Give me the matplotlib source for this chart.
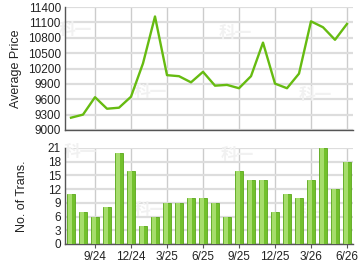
import matplotlib
matplotlib.use("Agg")
import matplotlib.pyplot as plt
import numpy as np

months = ["7/24","8/24","9/24","10/24","11/24","12/24","1/25","2/25","3/25","4/25","5/25","6/25",
          "7/25","8/25","9/25","10/25","11/25","12/25","1/26","2/26","3/26","4/26","5/26","6/26"]
avg_price = [9240, 9300, 9640, 9415, 9435, 9650, 10300, 11215, 10070, 10050, 9930, 10135,
             9865, 9880, 9815, 10050, 10705, 9905, 9815, 10100, 11120, 11005, 10760, 11070]
transactions = [11, 7, 6, 8, 20, 16, 4, 6, 9, 9, 10, 10, 9, 6, 16, 14, 14, 7, 11, 10, 14, 21, 12, 18]
tick_labels = ["9/24", "12/24", "3/25", "6/25", "9/25", "12/25", "3/26", "6/26"]

plt.rcParams['font.family'] = ['Liberation Sans', 'DejaVu Sans']
fig = plt.figure(figsize=(3.6, 2.7), dpi=100)
W, H = 360, 270
ax1 = fig.add_axes([65/W, 1-130/H, 288/W, 123/H])
ax2 = fig.add_axes([65/W, 1-244/H, 288/W, 96/H])

x = np.arange(len(months))
tick_pos = [months.index(t) for t in tick_labels]

# watermarks (figure pixel positions), above grid, below data
wm = {ax1: [(75, 30), (150, 92), (235, 33), (315, 95)],
      ax2: [(80, 152), (150, 210), (237, 155), (315, 213)]}
for ax, pts in wm.items():
    for (px, py) in pts:
        ax.text(px/W, 1-py/H, "科一", transform=fig.transFigure, fontsize=12, color="#f1f1f1",
                family=["Noto Sans CJK SC"], fontweight="bold", ha="center", va="center",
                zorder=2.5, clip_on=False)

for ax in (ax1, ax2):
    ax.set_xlim(-0.5, len(months) - 0.5)
    for s in ("top", "right"):
        ax.spines[s].set_visible(False)
    for s in ("left", "bottom"):
        ax.spines[s].set_color("#555555")
        ax.spines[s].set_linewidth(1)
    ax.set_xticks(tick_pos)
    ax.grid(axis="y", color="#dddddd", linewidth=1.6)
    ax.grid(axis="x", color="#cccccc", linewidth=1)
    ax.set_axisbelow(True)
    ax.tick_params(axis="both", labelsize=8.5, colors="#555555", labelcolor="#222222", length=3, width=0.8)
    ax.tick_params(axis="y", length=0, pad=3)

ax1.plot(x, avg_price, color="#66bb11", linewidth=1.7, zorder=3)
ax1.set_ylim(9000, 11400)
ax1.set_yticks(np.arange(9000, 11401, 300))
ax1.set_xticklabels([])
ax1.tick_params(axis="x", length=0)
ax1.set_ylabel("Average Price", fontsize=9, color="#222222", labelpad=4)

ax2.bar(x, transactions, width=0.72, color="#72c02c", edgecolor="#5aa81a", linewidth=0.6, zorder=3)
ax2.bar(x - 0.08, transactions, width=0.3, color="#a6dd6c", linewidth=0, zorder=4)
ax2.set_ylim(0, 21)
ax2.set_yticks(np.arange(0, 22, 3))
ax2.set_xticklabels(tick_labels)
ax2.tick_params(axis="x", pad=2)
ax2.set_ylabel("No. of Trans.", fontsize=9, color="#222222", labelpad=14)

fig.savefig("out.png", dpi=100)
